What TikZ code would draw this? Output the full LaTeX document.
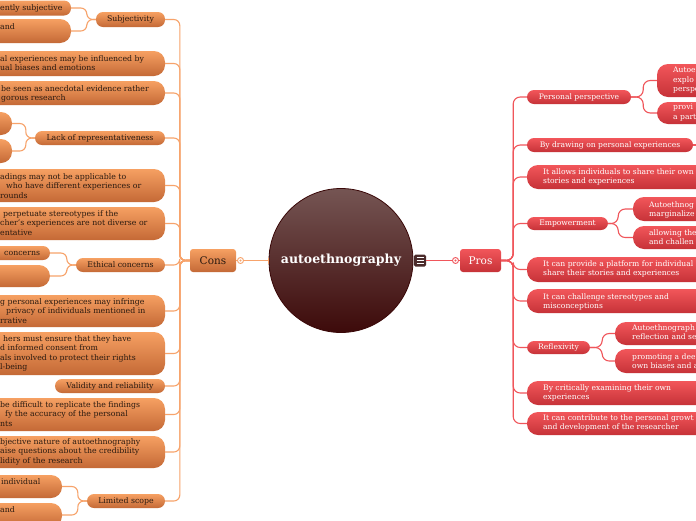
\documentclass[tikz,border=0pt]{standalone}
\usepackage{fontspec}
\setmainfont{DejaVu Serif}
\usetikzlibrary{arrows.meta}
\definecolor{otop}{HTML}{F6A062}
\definecolor{obot}{HTML}{C46936}
\definecolor{otext}{HTML}{2A1A10}
\definecolor{ocol}{HTML}{F7A36B}
\definecolor{rtop}{HTML}{F2565A}
\definecolor{rbot}{HTML}{C63238}
\definecolor{rcol}{HTML}{F0565B}
\definecolor{roottop}{HTML}{755553}
\definecolor{rootbot}{HTML}{3D0A0A}
\definecolor{rootline}{HTML}{3A0808}
\definecolor{iconc}{HTML}{4B2B2B}
\tikzset{
  basebox/.style={inner sep=0pt, draw=none},
  obox/.style={basebox, top color=otop, bottom color=obot, rounded corners=11pt},
  osmall/.style={basebox, top color=otop, bottom color=obot, rounded corners=7pt},
  omid/.style={basebox, top color=otop, bottom color=obot, rounded corners=7pt, text=otext, font=\fontsize{7.8}{9.5}\selectfont},
  rbox/.style={basebox, top color=rtop, bottom color=rbot, rounded corners=11pt},
  rmid/.style={basebox, top color=rtop, bottom color=rbot, rounded corners=7pt, text=white, font=\fontsize{7.6}{9.5}\selectfont},
  otxt/.style={inner sep=0pt, align=left, text=otext, font=\fontsize{7.8}{9.5}\selectfont, execute at begin node=\vphantom{bd}},
  rtxt/.style={inner sep=0pt, align=left, text=white, font=\fontsize{7.6}{9.5}\selectfont, execute at begin node=\vphantom{bd}},
  ocon/.style={draw=ocol, line width=1.1pt, rounded corners=6pt},
  rcon/.style={draw=rcol, line width=1.1pt, rounded corners=7pt},
}
\newcommand\bx[7]{\node[#6, minimum width={#4-#2}, minimum height={#5-#3}] (#1) at ({(#2+#4)/2},{(#3+#5)/2}) {#7};}
\newcommand\tx[5]{\node[#2, anchor=north west] (#1) at (#3,{#4-3.9}) {#5};}
\begin{document}
\begin{tikzpicture}[x=1pt,y=-1pt]
\useasboundingbox (0,0) rectangle (696,520);
\clip (0,0) rectangle (696,520);
\fill[white] (0,0) rectangle (696,520);

% root
\node[circle, minimum size=144pt, inner sep=0pt, top color=roottop, bottom color=rootbot, draw=rootline, line width=0.8pt, text=white, font=\fontsize{12.5}{14}\selectfont\bfseries] (root) at (341,260.5) {autoethnography};

% Cons / Pros
\bx{cons}{190}{249}{236}{272}{basebox, top color=otop, bottom color=obot, rounded corners=3pt, text=otext, font=\fontsize{10.5}{12}\selectfont}{Cons}
\bx{pros}{460}{249}{501}{272}{basebox, top color=rtop, bottom color=rbot, rounded corners=3pt, text=white, font=\fontsize{10.5}{12}\selectfont}{Pros}

% markers
\node[circle, draw=ocol, fill=white, line width=0.9pt, minimum size=6pt, inner sep=0pt] (cm) at (240.5,260.5) {};
\fill[ocol] (cm.center) circle (1.2);
\node[circle, draw=rcol, fill=white, line width=0.9pt, minimum size=6pt, inner sep=0pt] (pm) at (455.5,260.5) {};
\fill[rcol] (pm.center) circle (1.2);
\node[fill=iconc, minimum size=12pt, inner sep=0pt, rounded corners=1.5pt] (menu) at (420,260.5) {};
\draw[white, line width=0.8pt] (416.5,257.5) -- (423.5,257.5) (416.5,260.5) -- (423.5,260.5) (416.5,263.5) -- (423.5,263.5);

\draw[ocon] (cons.east) -- (cm.west);
\draw[ocon, -{Bar[width=6pt]}] (cm.east) -- (root.west);
\draw[rcon] (menu.east) -- (pm.west);
\draw[rcon] (pm.east) -- (pros.west);

% ---------- left side ----------
\bx{s}{96}{12}{165}{27}{omid}{Subjectivity}
\bx{s1}{-60}{0.5}{71}{15.5}{osmall}{}
\tx{s1t}{otxt}{0}{8}{ently subjective}
\bx{s2}{-60}{19}{71}{43}{obox}{}
\tx{s2t}{otxt}{0}{27}{and}
\bx{c3}{-60}{51}{165}{76}{obox}{}
\tx{c3t}{otxt}{0}{59}{al experiences may be influenced by\\ual biases and emotions}
\bx{c4}{-60}{81}{165}{105}{obox}{}
\tx{c4t}{otxt}{1}{89}{be seen as anecdotal evidence rather\\gorous research}
\bx{r}{35}{131}{165}{145}{omid}{Lack of representativeness}
\bx{r1}{-60}{112}{12}{135}{obox}{}
\bx{r2}{-60}{139}{12}{163}{obox}{}
\bx{c5}{-60}{169}{165}{202}{obox}{}
\tx{c5t}{otxt}{0}{177}{adings may not be applicable to\\\hspace*{6pt}who have different experiences or\\rounds}
\bx{c6}{-60}{207}{165}{240}{obox}{}
\tx{c6t}{otxt}{0}{214}{\hspace*{3pt}perpetuate stereotypes if the\\cher's experiences are not diverse or\\entative}
\bx{e}{76}{258}{165}{272}{omid}{Ethical concerns}
\bx{e1}{-60}{246}{50}{260}{osmall}{}
\tx{e1t}{otxt}{4}{253}{concerns}
\bx{e2}{-60}{265}{50}{287}{obox}{}
\bx{c7}{-60}{295}{165}{327}{obox}{}
\tx{c7t}{otxt}{0}{302}{g personal experiences may infringe\\\hspace*{6pt}privacy of individuals mentioned in\\rrative}
\bx{c8}{-60}{332}{165}{375}{obox}{}
\tx{c8t}{otxt}{0}{339}{\hspace*{3pt}hers must ensure that they have\\d informed consent from\\als involved to protect their rights\\l-being}
\bx{v}{55}{379}{165}{393}{omid}{Validity and reliability}
\bx{c9}{-60}{398}{165}{431}{obox}{}
\tx{c9t}{otxt}{0}{405}{be difficult to replicate the findings\\\hspace*{5pt}fy the accuracy of the personal\\nts}
\bx{c10}{-60}{436}{165}{468}{obox}{}
\tx{c10t}{otxt}{0}{442}{bjective nature of autoethnography\\aise questions about the credibility\\lidity of the research}
\bx{l}{87}{494}{165}{508}{omid}{Limited scope}
\bx{l1}{-60}{475}{62}{498}{obox}{}
\tx{l1t}{otxt}{1}{482}{individual}
\bx{l2}{-60}{503}{62}{527}{obox}{}
\tx{l2t}{otxt}{0}{510}{and}

\foreach \n in {s,c3,c4,r,c5,c6,e,c7,c8,v,c9,c10,l}
  \draw[ocon] (cons.west) -- ++(-10,0) |- (\n.east);
\foreach \n in {s1,s2} \draw[ocon] (s.west) -- ++(-9,0) |- (\n.east);
\foreach \n in {r1,r2} \draw[ocon] (r.west) -- ++(-9,0) |- (\n.east);
\foreach \n in {e1,e2} \draw[ocon] (e.west) -- ++(-9,0) |- (\n.east);
\foreach \n in {l1,l2} \draw[ocon] (l.west) -- ++(-9,0) |- (\n.east);

% ---------- right side ----------
\bx{pp}{527}{90}{631}{104}{rmid}{Personal perspective}
\bx{pp1}{657}{64}{760}{97}{rbox}{}
\tx{pp1t}{rtxt}{673}{71}{Autoe\\explo\\perspe}
\bx{pp2}{657}{102}{760}{124}{rbox}{}
\tx{pp2t}{rtxt}{673}{108}{provi\\a part}
\bx{bd}{527}{138}{693}{152}{rmid}{By drawing on personal experiences}
\coordinate (bdstub) at (710,145);
\bx{ia}{527}{165}{760}{189}{rbox}{}
\tx{iat}{rtxt}{543}{172}{It allows individuals to share their own\\stories and experiences}
\bx{em}{527}{217}{608}{230}{rmid}{Empowerment}
\bx{em1}{633}{197}{760}{221}{rbox}{}
\tx{em1t}{rtxt}{649}{205}{Autoethnog\\marginalize}
\bx{em2}{633}{226}{760}{249}{rbox}{}
\tx{em2t}{rtxt}{649}{233}{allowing the\\and challen}
\bx{cp}{527}{257}{760}{282}{rbox}{}
\tx{cpt}{rtxt}{543}{264}{It can provide a platform for individual\\share their stories and experiences}
\bx{cc}{527}{289}{760}{313}{rbox}{}
\tx{cct}{rtxt}{543}{297}{It can challenge stereotypes and\\misconceptions}
\bx{rf}{527}{341}{590}{354}{rmid}{Reflexivity}
\bx{rf1}{615}{322}{760}{345}{rbox}{}
\tx{rf1t}{rtxt}{632}{328}{Autoethnograph\\reflection and se}
\bx{rf2}{615}{349}{760}{373}{rbox}{}
\tx{rf2t}{rtxt}{632}{357}{promoting a dee\\own biases and a}
\bx{ce}{527}{381}{760}{405}{rbox}{}
\tx{cet}{rtxt}{543}{388}{By critically examining their own\\experiences}
\bx{cg}{527}{412}{760}{435}{rbox}{}
\tx{cgt}{rtxt}{543}{418}{It can contribute to the personal growt\\and development of the researcher}

\foreach \n in {pp,bd,ia,em,cp,cc,rf,ce,cg}
  \draw[rcon] (pros.east) -- ++(12,0) |- (\n.west);
\foreach \n in {pp1,pp2} \draw[rcon] (pp.east) -- ++(12,0) |- (\n.west);
\foreach \n in {em1,em2} \draw[rcon] (em.east) -- ++(10,0) |- (\n.west);
\foreach \n in {rf1,rf2} \draw[rcon] (rf.east) -- ++(12,0) |- (\n.west);
\draw[rcon] (bd.east) -- (bdstub);
\end{tikzpicture}
\end{document}
